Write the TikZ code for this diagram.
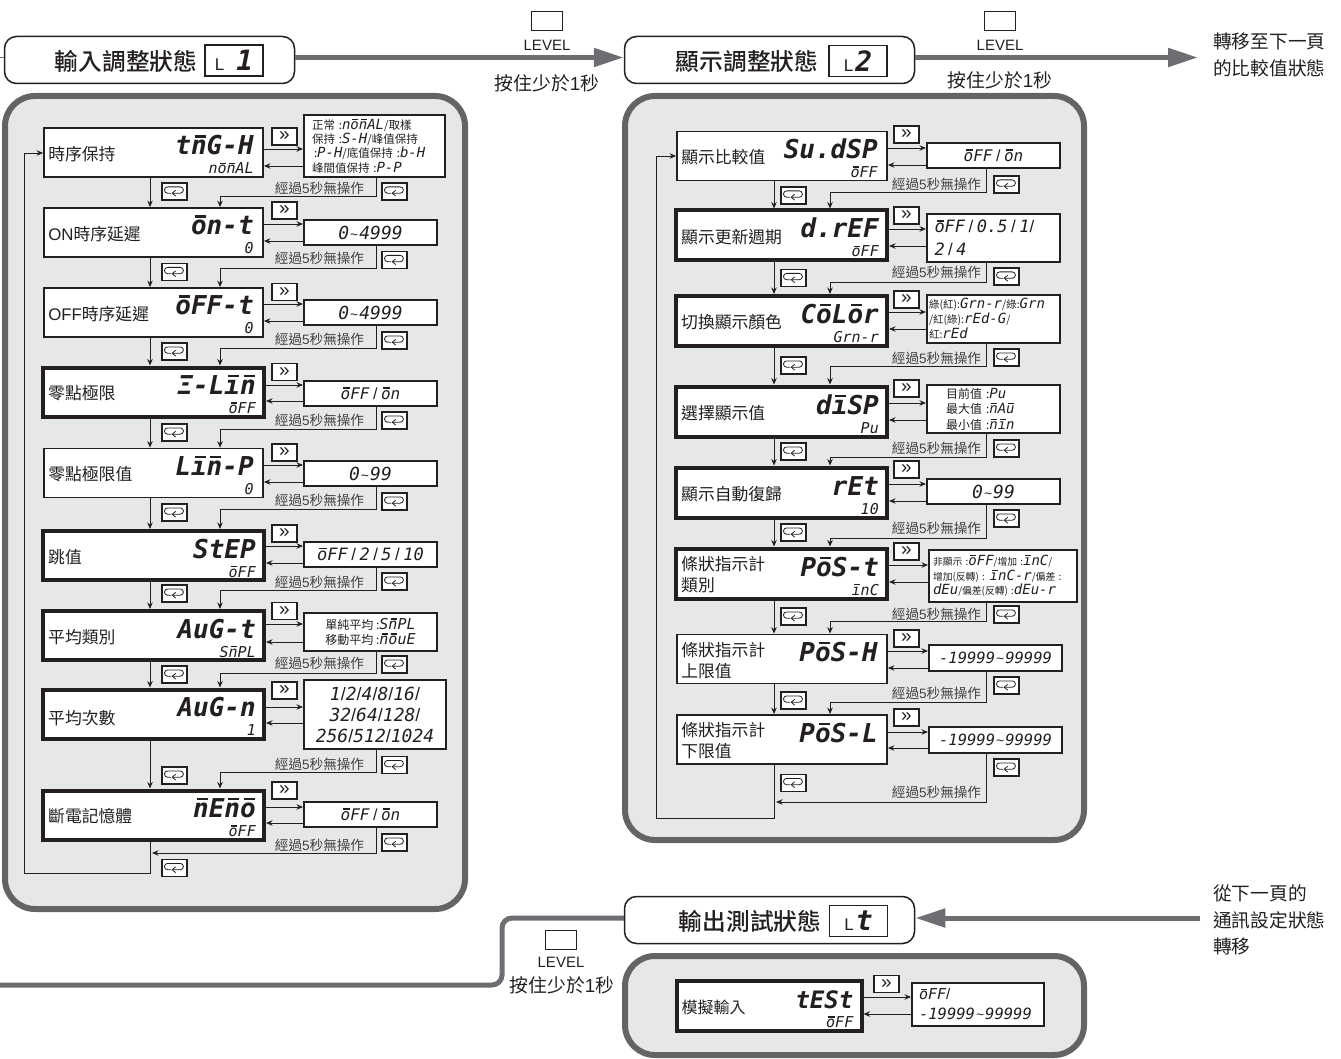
\documentclass[tikz,border=0pt]{standalone}
\usepackage{fontspec}
\setmainfont{Noto Sans CJK TC}
\newfontfamily\headf{Noto Sans CJK TC Medium}
\newfontfamily\lat{Liberation Sans}
\newfontfamily\segf{DejaVu Sans Mono}
\definecolor{panelFill}{HTML}{E6E7E8}
\definecolor{panelEdge}{HTML}{636466}
\definecolor{flowGray}{HTML}{6D6E71}
\definecolor{inkDark}{HTML}{231F20}
\definecolor{idleGray}{HTML}{414042}
\usetikzlibrary{positioning,arrows.meta}
% seven-segment lettering
\newcommand{\segtxt}[2]{{\fontsize{#1}{#1}\segf\itshape\selectfont #2}}
\newcommand{\segbig}[2]{{\fontsize{#1}{#1}\segf\bfseries\itshape\selectfont #2}}
\newcommand{\ob}[1]{\mbox{\ooalign{#1\cr\kern.14em\rule[.66em]{.42em}{.09em}\cr}}}
\newcommand{\sla}{{\lat\mdseries\upshape/}}
\newcommand{\slw}{\hspace{3.5pt}\sla\hspace{3.5pt}}
\newcommand{\til}{{\lat\mdseries\upshape\fontsize{14}{14}\selectfont\hspace{1pt}\textasciitilde\hspace{1pt}}}
\newcommand{\idletxt}{經過{\lat 5}秒無操作}
\newcommand{\holdtxt}{按住少於{\lat 1}秒}

\begin{document}
\begin{tikzpicture}[x=1pt,y=-1pt,
    panel/.style={draw=panelEdge, fill=panelFill, line width=6pt, rounded corners=30pt},
    header/.style={draw=inkDark, fill=white, line width=1.5pt, rounded corners=12pt,
                   minimum width=290pt, minimum height=47pt},
    headtxt/.style={font=\headf\fontsize{23.7}{26}\selectfont, text=inkDark, inner sep=0pt},
    lvlbox/.style={draw=inkDark, fill=white, line width=1.1pt, minimum width=58pt, minimum height=31pt,
                   inner sep=0pt, text=inkDark},
    lvlkey/.style={draw=inkDark, fill=white, line width=1.1pt, minimum width=31pt, minimum height=19pt},
    lvltxt/.style={font=\lat\fontsize{15}{17}\selectfont, text=inkDark, inner sep=0pt},
    holdlab/.style={font=\fontsize{18.8}{20}\selectfont, text=inkDark, inner sep=0pt},
    sidetxt/.style={font=\fontsize{18.7}{26.7}\selectfont, text=inkDark, inner sep=0pt, align=left, anchor=west},
    flow/.style={draw=flowGray, line width=5pt, -{Triangle[length=30pt,width=18pt]}},
    flowline/.style={draw=flowGray, line width=5pt, rounded corners=10pt},
    main/.style={draw=inkDark, fill=white, line width=1.8pt, minimum width=219pt, minimum height=49pt, inner sep=0pt},
    mainbold/.style={main, line width=4pt, minimum width=221pt},
    mainr/.style={main, minimum width=210pt},
    mainrbold/.style={mainbold, minimum width=211pt, minimum height=50pt},
    mname/.style={font=\fontsize{16.8}{21}\selectfont, text=inkDark, inner sep=0pt, align=left, yshift=-1.5pt},
    sega/.style={anchor=base east, xshift=-10pt, yshift=-2.5pt, inner sep=0pt, text=inkDark,
                 font=\fontsize{26}{26}\segf\bfseries\itshape\selectfont},
    segb/.style={anchor=base east, xshift=-10pt, yshift=-21.5pt, inner sep=0pt, text=inkDark,
                 font=\fontsize{15}{15}\segf\itshape\selectfont},
    val/.style={draw=inkDark, fill=white, line width=2pt, minimum width=133pt, minimum height=25pt,
                inner sep=0pt, text=inkDark, align=center, font=\fontsize{11.5}{14.3}\selectfont},
    fwdkey/.style={draw=inkDark, fill=white, line width=1.2pt, minimum width=25pt, minimum height=17pt,
                   inner sep=0pt, text=inkDark, font=\lat\fontsize{19}{19}\selectfont},
    loopkey/.style={draw=inkDark, fill=white, line width=1.3pt, minimum width=25pt, minimum height=17pt,
                    inner sep=0pt, path picture={
                      \draw[shift={(path picture bounding box.center)}, x=1.15pt, y=1.15pt, line width=.8pt, inkDark]
                        (-1.5,-1.5) -- (5,-1.5) arc (-90:90:2.75) -- (-6,4) arc (90:270:2.75) -- (-3,-1.5);
                      \draw[shift={(path picture bounding box.center)}, x=1.15pt, y=1.15pt, line width=.8pt, inkDark]
                        (1,1) -- (-2,-1.5) -- (1,-4);}},
    idle/.style={font=\fontsize{13.6}{15}\selectfont, text=idleGray, inner sep=0pt},
    arr/.style={->, >={Stealth[length=6.5pt,width=5.5pt]}, line width=.9pt, draw=inkDark},
  ]
  \useasboundingbox (0,0) rectangle (1341,1059);

  % panels
  \node[panel, minimum width=460pt, minimum height=813pt] (p1) at (235,502.5) {};
  \node[panel, minimum width=459pt, minimum height=744pt] (p2) at (854.5,468) {};
  \node[panel, minimum width=459pt, minimum height=99pt] (p3) at (854.5,1005.5) {};

  % headers
  \node[header] (h1) at (149.5,60) {};
  \node[headtxt] (h1t) at (126,61.5) {輸入調整狀態};
  \node[lvlbox] (h1l) at (234,60.5) {{\lat\fontsize{17}{17}\selectfont L}\hspace{12pt}\segbig{28}{1}};
  \node[header] (h2) at (769.5,60) {};
  \node[headtxt] (h2t) at (747,61.5) {顯示調整狀態};
  \node[lvlbox] (h2l) at (858,61) {{\lat\fontsize{17}{17}\selectfont L}\hspace{2pt}\segbig{28}{2}};
  \node[header] (h3) at (769.5,920) {};
  \node[headtxt] (h3t) at (750,921.5) {輸出測試狀態};
  \node[lvlbox] (h3l) at (858.5,921) {{\lat\fontsize{17}{17}\selectfont L}\hspace{2pt}\segbig{28}{t}};

  % level keys
  \node[lvlkey] (lk1) at (547,21) {};
  \node[lvltxt, below=9pt of lk1] (lt1) {LEVEL};
  \node[holdlab] (ht1) at (547,83) {\holdtxt};
  \node[lvlkey] (lk2) at (1000,21) {};
  \node[lvltxt, below=9pt of lk2] (lt2) {LEVEL};
  \node[holdlab] (ht2) at (1000,80) {\holdtxt};
  \node[lvlkey] (lk3) at (561,940) {};
  \node[lvltxt, below=7pt of lk3] (lt3) {LEVEL};
  \node[holdlab] (ht3) at (562,985) {\holdtxt};

  % side notes
  \node[sidetxt] (n1) at (1213,55) {轉移至下一頁\\的比較值狀態};
  \node[sidetxt] (n3) at (1213,920) {從下一頁的\\通訊設定狀態\\轉移};
  \coordinate (w1) at (0,57.5);
  \coordinate (w3) at (0,985);
  \coordinate (o2) at (1198,57.5);
  \coordinate (i3) at (1200,918);

  \draw[flow] (h1.east |- w1) -- (h2.west |- w1);
  \draw[flow] (h2.east |- o2) -- (o2);
  \draw[flow] (i3) -- (h3.east |- i3);
  \draw[flowline] (h3.west |- i3) -- (502,918) -- (502,985) -- (w3);
  \draw[draw=flowGray, line width=.6pt] (w1) -- (h1.west |- w1);

  % left panel
  \node[main] (m1) at (153.5,152.5) {};
  \node[mname, right=5pt of m1.west] (m1n) {時序保持};
  \node[sega] (m1a) at (m1.east) {t\ob{n}G-H};
  \node[segb] (m1b) at (m1.east) {n\ob{o}\ob{n}AL};
  \node[val, minimum width=141pt, minimum height=62pt, text width=125pt, align=left] (v1) at (374.5,146)
    {正常 :\segtxt{14}{n\ob{o}\ob{n}AL}/取樣\\保持 :\segtxt{14}{S-H}/峰值保持\\\hspace{2pt}:\segtxt{14}{P-H}/底值保持 :\segtxt{14}{b-H}\\峰間值保持 :\segtxt{14}{P-P}};
  \node[fwdkey] (k1) at (284.5,136.5) {»};
  \node[loopkey] (c1) at (174.5,191.5) {};
  \node[loopkey] (t1) at (394.5,191.5) {};
  \node[idle] (i1) at (319.5,188) {\idletxt};

  \node[main] (m2) at (153.5,232.5) {};
  \node[mname, right=5pt of m2.west] (m2n) {{\lat ON}時序延遲};
  \node[sega] (m2a) at (m2.east) {\ob{o}n-t};
  \node[segb] (m2b) at (m2.east) {0};
  \node[val] (v2) at (370.5,232.5) {\segtxt{18}{0\til4999}};
  \node[fwdkey] (k2) at (284.5,210.5) {»};
  \node[loopkey] (c2) at (174.5,272) {};
  \node[loopkey] (t2) at (394.5,260) {};
  \node[idle] (i2) at (319.5,258) {\idletxt};

  \node[main] (m3) at (153.5,312.5) {};
  \node[mname, right=5pt of m3.west] (m3n) {{\lat OFF}時序延遲};
  \node[sega] (m3a) at (m3.east) {\ob{o}FF-t};
  \node[segb] (m3b) at (m3.east) {0};
  \node[val] (v3) at (370.5,312.5) {\segtxt{18}{0\til4999}};
  \node[fwdkey] (k3) at (284.5,292) {»};
  \node[loopkey] (c3) at (174.5,351.5) {};
  \node[loopkey] (t3) at (394.5,340.5) {};
  \node[idle] (i3) at (319.5,339) {\idletxt};

  \node[mainbold] (m4) at (153.5,392) {};
  \node[mname, right=7pt of m4.west] (m4n) {零點極限};
  \node[sega] (m4a) at (m4.east) {Ξ-L\ob{ı}\ob{n}};
  \node[segb] (m4b) at (m4.east) {\ob{o}FF};
  \node[val] (v4) at (370.5,393.5) {\segtxt{16}{\ob{o}FF\slw\ob{o}n}};
  \node[fwdkey] (k4) at (284.5,372) {»};
  \node[loopkey] (c4) at (174.5,432.5) {};
  \node[loopkey] (t4) at (394.5,420.5) {};
  \node[idle] (i4) at (319.5,420) {\idletxt};

  \node[main] (m5) at (153.5,473) {};
  \node[mname, right=5pt of m5.west] (m5n) {零點極限值};
  \node[sega] (m5a) at (m5.east) {L\ob{ı}\ob{n}-P};
  \node[segb] (m5b) at (m5.east) {0};
  \node[val] (v5) at (370.5,473.5) {\segtxt{18}{0\til99}};
  \node[fwdkey] (k5) at (284.5,452.5) {»};
  \node[loopkey] (c5) at (174.5,512.5) {};
  \node[loopkey] (t5) at (394.5,501.5) {};
  \node[idle] (i5) at (319.5,500) {\idletxt};

  \node[mainbold] (m6) at (153.5,555.5) {};
  \node[mname, right=7pt of m6.west] (m6n) {跳值};
  \node[sega] (m6a) at (m6.east) {StEP};
  \node[segb] (m6b) at (m6.east) {\ob{o}FF};
  \node[val] (v6) at (370.5,554.5) {\segtxt{17}{\ob{o}FF\slw 2\slw 5\slw 10}};
  \node[fwdkey] (k6) at (284.5,533.5) {»};
  \node[loopkey] (c6) at (174.5,593.5) {};
  \node[loopkey] (t6) at (394.5,581.5) {};
  \node[idle] (i6) at (319.5,582) {\idletxt};

  \node[mainbold] (m7) at (153.5,635.5) {};
  \node[mname, right=7pt of m7.west] (m7n) {平均類別};
  \node[sega] (m7a) at (m7.east) {AuG-t};
  \node[segb] (m7b) at (m7.east) {S\ob{n}PL};
  \node[val, minimum height=38pt, font=\fontsize{12}{15}\selectfont] (v7) at (370.5,632) {單純平均 :\segtxt{15}{S\ob{n}PL}\\移動平均 :\segtxt{15}{\ob{n}\ob{o}uE}};
  \node[fwdkey] (k7) at (284.5,611) {»};
  \node[loopkey] (c7) at (174.5,674.5) {};
  \node[loopkey] (t7) at (394.5,664.5) {};
  \node[idle] (i7) at (319.5,663.5) {\idletxt};

  \node[mainbold] (m8) at (153.5,714) {};
  \node[mname, right=7pt of m8.west, yshift=-3pt] (m8n) {平均次數};
  \node[sega] (m8a) at (m8.east) {AuG-n};
  \node[segb] (m8b) at (m8.east) {1};
  \node[val, minimum width=142pt, minimum height=69pt, font=\fontsize{18}{21}\selectfont] (v8) at (375,714.5)
    {\segtxt{18}{1\sla 2\sla 4\sla 8\sla 16\sla}\\\segtxt{18}{32\sla 64\sla 128\sla}\\\segtxt{18}{256\sla 512\sla 1024}};
  \node[fwdkey] (k8) at (284.5,690.5) {»};
  \node[loopkey] (c8) at (174.5,775.5) {};
  \node[loopkey] (t8) at (394.5,765) {};
  \node[idle] (i8) at (319.5,764) {\idletxt};

  \node[mainbold] (m9) at (153.5,815) {};
  \node[mname, right=7pt of m9.west] (m9n) {斷電記憶體};
  \node[sega] (m9a) at (m9.east) {\ob{n}E\ob{n}\ob{o}};
  \node[segb] (m9b) at (m9.east) {\ob{o}FF};
  \node[val] (v9) at (370.5,814.5) {\segtxt{16}{\ob{o}FF\slw\ob{o}n}};
  \node[fwdkey] (k9) at (284.5,790.5) {»};
  \node[loopkey] (c9) at (174.5,868) {};
  \node[loopkey] (t9) at (394.5,842.5) {};
  \node[idle] (i9) at (319.5,845.5) {\idletxt};

  \draw[arr] (m1.east |- 0,149) -- (v1.west |- 0,149);
  \draw[arr] (v1.west |- 0,166) -- (m1.east |- 0,166);
  \draw[arr] (m2.east |- 0,224) -- (v2.west |- 0,224);
  \draw[arr] (v2.west |- 0,241) -- (m2.east |- 0,241);
  \draw[arr] (m3.east |- 0,304) -- (v3.west |- 0,304);
  \draw[arr] (v3.west |- 0,321) -- (m3.east |- 0,321);
  \draw[arr] (m4.east |- 0,385) -- (v4.west |- 0,385);
  \draw[arr] (v4.west |- 0,401) -- (m4.east |- 0,401);
  \draw[arr] (m5.east |- 0,465) -- (v5.west |- 0,465);
  \draw[arr] (v5.west |- 0,482) -- (m5.east |- 0,482);
  \draw[arr] (m6.east |- 0,546) -- (v6.west |- 0,546);
  \draw[arr] (v6.west |- 0,563) -- (m6.east |- 0,563);
  \draw[arr] (m7.east |- 0,624) -- (v7.west |- 0,624);
  \draw[arr] (v7.west |- 0,642) -- (m7.east |- 0,642);
  \draw[arr] (m8.east |- 0,707) -- (v8.west |- 0,707);
  \draw[arr] (v8.west |- 0,723) -- (m8.east |- 0,723);
  \draw[arr] (m9.east |- 0,807) -- (v9.west |- 0,807);
  \draw[arr] (v9.west |- 0,823) -- (m9.east |- 0,823);

  \draw[arr] (m1.south -| 150,0) -- (m2.north -| 150,0);
  \draw[arr] (m2.south -| 150,0) -- (m3.north -| 150,0);
  \draw[arr] (m3.south -| 150,0) -- (m4.north -| 150,0);
  \draw[arr] (m4.south -| 150,0) -- (m5.north -| 150,0);
  \draw[arr] (m5.south -| 150,0) -- (m6.north -| 150,0);
  \draw[arr] (m6.south -| 150,0) -- (m7.north -| 150,0);
  \draw[arr] (m7.south -| 150,0) -- (m8.north -| 150,0);
  \draw[arr] (m8.south -| 150,0) -- (m9.north -| 150,0);

  \draw[arr] (v1.south -| 376,0) -- (376,196) -- (220,196) -- (m2.north -| 220,0);
  \draw[arr] (v2.south -| 376,0) -- (376,268) -- (220,268) -- (m3.north -| 220,0);
  \draw[arr] (v3.south -| 376,0) -- (376,348) -- (220,348) -- (m4.north -| 220,0);
  \draw[arr] (v4.south -| 376,0) -- (376,429) -- (220,429) -- (m5.north -| 220,0);
  \draw[arr] (v5.south -| 376,0) -- (376,509) -- (220,509) -- (m6.north -| 220,0);
  \draw[arr] (v6.south -| 376,0) -- (376,590) -- (220,590) -- (m7.north -| 220,0);
  \draw[arr] (v7.south -| 376,0) -- (376,673) -- (220,673) -- (m8.north -| 220,0);
  \draw[arr] (v8.south -| 376,0) -- (376,772) -- (220,772) -- (m9.north -| 220,0);
  \draw[arr] (v9.south -| 376,0) -- (376,853) -- (152,853);
  \draw[arr] (m9.south -| 150,0) -- (150,873) -- (24,873) -- (24,153) -- (m1.west |- 0,153);

  % right panel
  \node[mainr] (r1) at (782,156) {};
  \node[mname, right=5pt of r1.west] (r1n) {顯示比較值};
  \node[sega] (r1a) at (r1.east) {Su.dSP};
  \node[segb] (r1b) at (r1.east) {\ob{o}FF};
  \node[val] (s1) at (993.5,155.5) {\segtxt{16}{\ob{o}FF\slw\ob{o}n}};
  \node[fwdkey] (q1) at (906.5,134.5) {»};
  \node[loopkey] (d1) at (793.5,195.5) {};
  \node[loopkey] (u1) at (1006.5,184.5) {};
  \node[idle] (j1) at (936.5,184) {\idletxt};

  \node[mainrbold] (r2) at (781.5,235.5) {};
  \node[mname, right=7pt of r2.west] (r2n) {顯示更新週期};
  \node[sega] (r2a) at (r2.east) {d.rEF};
  \node[segb] (r2b) at (r2.east) {\ob{o}FF};
  \node[val, minimum height=48pt, text width=118pt, align=left, font=\fontsize{18}{23}\selectfont] (s2) at (993.5,238)
    {\segtxt{17}{\ob{o}FF\slw 0.5\slw 1\sla}\\\segtxt{17}{2\slw 4}};
  \node[fwdkey] (q2) at (906.5,215.5) {»};
  \node[loopkey] (d2) at (793.5,278) {};
  \node[loopkey] (u2) at (1006.5,276.5) {};
  \node[idle] (j2) at (936.5,272.5) {\idletxt};

  \node[mainrbold] (r3) at (781.5,321) {};
  \node[mname, right=7pt of r3.west] (r3n) {切換顯示顏色};
  \node[sega] (r3a) at (r3.east) {C\ob{o}L\ob{o}r};
  \node[segb] (r3b) at (r3.east) {Grn-r};
  \node[val, minimum height=48pt, text width=129pt, align=left, font=\fontsize{10.5}{15}\selectfont] (s3) at (993.5,319)
    {綠(紅):\segtxt{14}{Grn-r}/綠:\segtxt{14}{Grn}\\/紅(綠):\segtxt{14}{rEd-G}/\\紅:\segtxt{14}{rEd}};
  \node[fwdkey] (q3) at (906.5,299.5) {»};
  \node[loopkey] (d3) at (793.5,365.5) {};
  \node[loopkey] (u3) at (1006.5,357.5) {};
  \node[idle] (j3) at (936.5,358) {\idletxt};

  \node[mainrbold] (r4) at (781.5,411.5) {};
  \node[mname, right=7pt of r4.west] (r4n) {選擇顯示值};
  \node[sega] (r4a) at (r4.east) {d\ob{ı}SP};
  \node[segb] (r4b) at (r4.east) {Pu};
  \node[val, minimum height=48pt, text width=95pt, align=left, font=\fontsize{12}{15.5}\selectfont] (s4) at (993.5,409)
    {目前值 :\segtxt{14}{Pu}\\最大值 :\segtxt{14}{\ob{n}A\ob{u}}\\最小值 :\segtxt{14}{\ob{n}\ob{ı}n}};
  \node[fwdkey] (q4) at (906.5,388.5) {»};
  \node[loopkey] (d4) at (793.5,451.5) {};
  \node[loopkey] (u4) at (1006.5,448.5) {};
  \node[idle] (j4) at (936.5,448) {\idletxt};

  \node[mainrbold] (r5) at (781.5,492.5) {};
  \node[mname, right=7pt of r5.west] (r5n) {顯示自動復歸};
  \node[sega] (r5a) at (r5.east) {rEt};
  \node[segb] (r5b) at (r5.east) {10};
  \node[val] (s5) at (993.5,491.5) {\segtxt{18}{0\til99}};
  \node[fwdkey] (q5) at (906.5,469.5) {»};
  \node[loopkey] (d5) at (793.5,532.5) {};
  \node[loopkey] (u5) at (1006.5,518.5) {};
  \node[idle] (j5) at (936.5,528) {\idletxt};

  \node[mainrbold] (r6) at (781.5,573.5) {};
  \node[mname, right=7pt of r6.west] (r6n) {條狀指示計\\類別};
  \node[sega] (r6a) at (r6.east) {P\ob{o}S-t};
  \node[segb] (r6b) at (r6.east) {\ob{ı}nC};
  \node[val, minimum width=148pt, minimum height=52pt, text width=140pt, align=left, font=\fontsize{9.8}{14.5}\selectfont] (s6) at (1003,576)
    {非顯示 :\segtxt{14}{\ob{o}FF}/增加 :\segtxt{14}{\ob{ı}nC}/\\增加(反轉) : \segtxt{14}{\ob{ı}nC-r}/偏差 :\\\segtxt{14}{dEu}/偏差(反轉) :\segtxt{14}{dEu-r}};
  \node[fwdkey] (q6) at (906.5,551.5) {»};
  \node[loopkey] (d6) at (793.5,616.5) {};
  \node[loopkey] (u6) at (1006.5,614.5) {};
  \node[idle] (j6) at (936.5,614) {\idletxt};

  \node[mainr] (r7) at (782,659) {};
  \node[mname, right=5pt of r7.west] (r7n) {條狀指示計\\上限值};
  \node[sega] (r7a) at (r7.east) {P\ob{o}S-H};
  \node[val, minimum height=26pt] (s7) at (995.5,658) {\segtxt{15.5}{-19999\til 99999}};
  \node[fwdkey] (q7) at (906.5,638.5) {»};
  \node[loopkey] (d7) at (793.5,700.5) {};
  \node[loopkey] (u7) at (1006.5,685.5) {};
  \node[idle] (j7) at (936.5,693.5) {\idletxt};

  \node[mainr] (r8) at (782,739.5) {};
  \node[mname, right=5pt of r8.west] (r8n) {條狀指示計\\下限值};
  \node[sega] (r8a) at (r8.east) {P\ob{o}S-L};
  \node[val, minimum height=26pt] (s8) at (995.5,739.5) {\segtxt{15.5}{-19999\til 99999}};
  \node[fwdkey] (q8) at (906.5,717.5) {»};
  \node[loopkey] (d8) at (793.5,783) {};
  \node[loopkey] (u8) at (1006.5,767.5) {};
  \node[idle] (j8) at (936.5,792) {\idletxt};

  \draw[arr] (r1.east |- 0,148) -- (s1.west |- 0,148);
  \draw[arr] (s1.west |- 0,165) -- (r1.east |- 0,165);
  \draw[arr] (r2.east |- 0,229) -- (s2.west |- 0,229);
  \draw[arr] (s2.west |- 0,246) -- (r2.east |- 0,246);
  \draw[arr] (r3.east |- 0,312) -- (s3.west |- 0,312);
  \draw[arr] (s3.west |- 0,329) -- (r3.east |- 0,329);
  \draw[arr] (r4.east |- 0,403) -- (s4.west |- 0,403);
  \draw[arr] (s4.west |- 0,420) -- (r4.east |- 0,420);
  \draw[arr] (r5.east |- 0,484) -- (s5.west |- 0,484);
  \draw[arr] (s5.west |- 0,501) -- (r5.east |- 0,501);
  \draw[arr] (r6.east |- 0,565) -- (s6.west |- 0,565);
  \draw[arr] (s6.west |- 0,582) -- (r6.east |- 0,582);
  \draw[arr] (r7.east |- 0,651) -- (s7.west |- 0,651);
  \draw[arr] (s7.west |- 0,668) -- (r7.east |- 0,668);
  \draw[arr] (r8.east |- 0,732) -- (s8.west |- 0,732);
  \draw[arr] (s8.west |- 0,748) -- (r8.east |- 0,748);

  \draw[arr] (r1.south -| 774,0) -- (r2.north -| 774,0);
  \draw[arr] (r2.south -| 774,0) -- (r3.north -| 774,0);
  \draw[arr] (r3.south -| 774,0) -- (r4.north -| 774,0);
  \draw[arr] (r4.south -| 774,0) -- (r5.north -| 774,0);
  \draw[arr] (r5.south -| 774,0) -- (r6.north -| 774,0);
  \draw[arr] (r6.south -| 774,0) -- (r7.north -| 774,0);
  \draw[arr] (r7.south -| 774,0) -- (r8.north -| 774,0);

  \draw[arr] (s1.south -| 986,0) -- (986,192) -- (830,192) -- (r2.north -| 830,0);
  \draw[arr] (s2.south -| 986,0) -- (986,282) -- (830,282) -- (r3.north -| 830,0);
  \draw[arr] (s3.south -| 986,0) -- (986,366) -- (830,366) -- (r4.north -| 830,0);
  \draw[arr] (s4.south -| 986,0) -- (986,457) -- (830,457) -- (r5.north -| 830,0);
  \draw[arr] (s5.south -| 986,0) -- (986,538) -- (830,538) -- (r6.north -| 830,0);
  \draw[arr] (s6.south -| 986,0) -- (986,621) -- (830,621) -- (r7.north -| 830,0);
  \draw[arr] (s7.south -| 986,0) -- (986,702) -- (830,702) -- (r8.north -| 830,0);
  \draw[arr] (s8.south -| 986,0) -- (986,802) -- (776,802);
  \draw[arr] (r8.south -| 774,0) -- (774,818) -- (656,818) -- (656,156) -- (r1.west |- 0,156);

  % test panel
  \node[mainrbold, minimum width=185pt] (b1) at (769,1006) {};
  \node[mname, font=\fontsize{16}{20}\selectfont, right=7pt of b1.west] (b1n) {模擬輸入};
  \node[sega, font=\fontsize{24}{24}\segf\bfseries\itshape\selectfont] (b1a) at (b1.east) {tESt};
  \node[segb] (b1b) at (b1.east) {\ob{o}FF};
  \node[val, minimum width=132pt, minimum height=43pt, text width=118pt, align=left, font=\fontsize{15}{20}\selectfont] (w2) at (978,1004.5)
    {\segtxt{15}{\ob{o}FF\sla}\\\segtxt{15.5}{-19999\til 99999}};
  \node[fwdkey] (q9) at (886.5,984) {»};
  \draw[arr] (b1.east |- 0,997) -- (w2.west |- 0,997);
  \draw[arr] (w2.west |- 0,1014) -- (b1.east |- 0,1014);
\end{tikzpicture}
\end{document}
